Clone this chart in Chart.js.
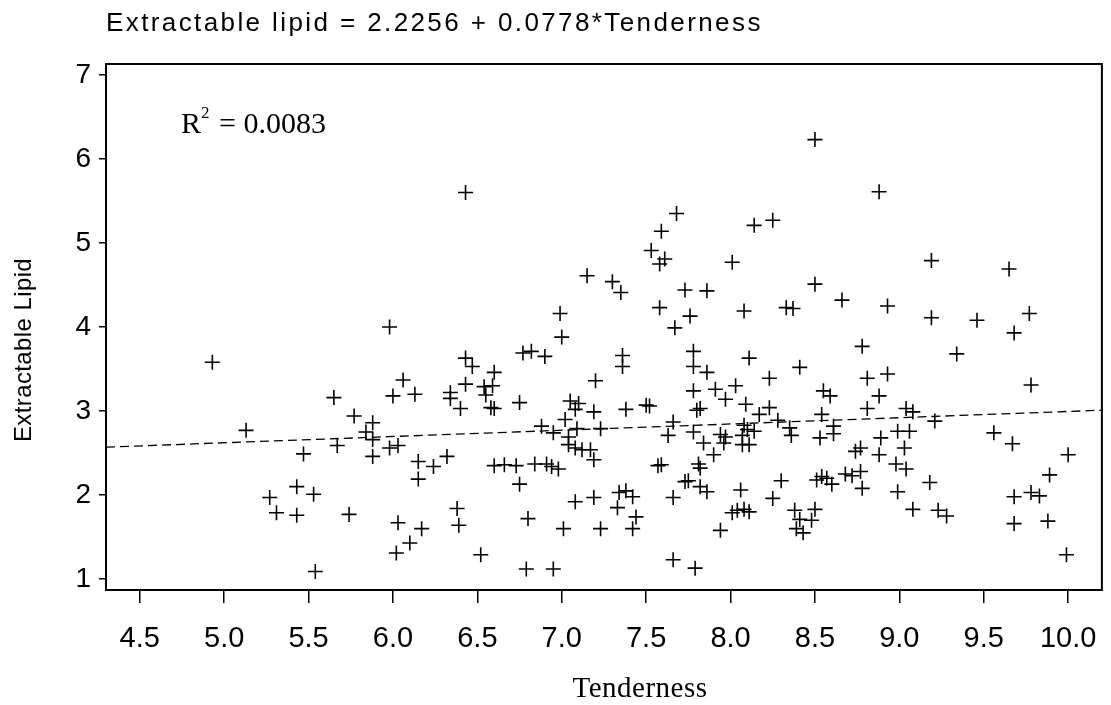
<!DOCTYPE html>
<html>
<head>
<meta charset="utf-8">
<title>Extractable lipid vs Tenderness</title>
<script src="https://cdn.jsdelivr.net/npm/chart.js@4.4.0/dist/chart.umd.min.js"></script>
<style>
  html, body { margin: 0; padding: 0; background: #fff; }
  #wrap { width: 1111px; height: 705px; }
</style>
</head>
<body>
<div id="wrap"><canvas id="chart" width="1111" height="705"></canvas></div>
<script>
const tenderness = [
    5.98, 4.93, 5.13, 5.65, 5.77, 5.88, 5.84, 5.88, 5.88, 5.67,
    5.47, 5.98, 6.03, 6.06, 6.00, 6.13, 6.15, 6.24, 6.15, 5.27,
    5.43, 5.53, 5.31, 5.43, 5.74, 6.03, 6.17, 6.10, 6.02, 5.54,
    6.43, 7.68, 7.59, 7.53, 7.61, 7.58, 8.14, 8.25, 8.01, 7.15,
    7.30, 7.35, 7.73, 7.86, 6.99, 7.58, 7.76, 8.08,
    7.67, 7.00, 6.43, 6.47, 6.77, 6.82, 6.90, 7.36, 7.36, 7.78,
    7.78, 7.86, 8.11, 8.23, 6.60, 6.43, 6.34, 6.34, 6.54, 6.59,
    6.55, 6.40, 6.58, 6.60, 6.75, 7.20, 7.05, 7.10, 7.08, 7.19,
    7.02, 7.38, 7.50, 7.52, 6.88, 6.95, 7.09, 7.23, 7.04, 7.04,
    7.08, 7.12, 7.17, 7.19, 7.66, 7.63, 7.78, 7.80, 7.82, 7.78,
    7.91, 8.03, 7.97, 8.09, 8.23, 8.17, 7.94, 7.97, 7.96, 8.08,
    8.10, 8.14, 8.07, 8.07, 8.11, 7.84, 7.90, 6.32, 6.60, 6.66,
    6.73, 6.84, 6.91, 6.94, 6.98, 6.75, 7.57, 7.59, 7.81, 7.82,
    7.73, 7.75, 7.82, 7.86, 7.66, 8.06, 8.25, 8.04, 8.08, 8.11,
    8.01, 7.94, 7.66, 7.79, 7.34, 7.38, 7.42, 7.33, 7.44, 7.42,
    7.23, 7.01, 7.19, 7.08, 6.80, 6.38, 6.39, 6.52, 6.79, 6.95,
    8.50, 8.88, 9.19, 9.65, 8.50, 8.66, 8.33, 8.37, 8.93, 9.19,
    9.46, 9.77,
    9.68, 8.78, 9.34, 8.41, 8.81, 8.93, 9.78, 8.55, 8.59, 8.88,
    8.54, 8.81, 9.04, 9.08, 8.28, 8.35, 8.36, 8.61, 8.61, 8.53,
    9.21, 8.99, 9.06, 8.89, 9.03, 8.88, 8.74, 8.77, 8.98, 9.04,
    9.56, 9.67, 10.00, 9.89, 9.78, 9.83, 9.68, 9.68, 9.88, 9.99,
    9.18, 8.99, 9.08, 9.23, 9.28, 8.30, 8.51, 8.54, 8.57, 8.60,
    8.68, 8.72, 8.77, 8.78, 8.38, 8.41, 8.39, 8.43, 8.48, 8.50
];
const lipid = [
    4.00, 3.58, 2.77, 3.16, 2.94, 2.86, 2.75, 2.66, 2.46, 2.59,
    2.49, 2.56, 2.59, 3.37, 3.18, 3.20, 2.40, 2.34, 2.19, 1.97,
    2.10, 2.01, 1.79, 1.76, 1.77, 1.67, 1.60, 1.43, 1.31, 1.09,
    5.60, 5.35, 5.14, 4.91, 4.81, 4.75, 5.21, 5.27, 4.77, 4.61,
    4.54, 4.41, 4.44, 4.43, 4.16, 4.23, 4.13, 4.19,
    3.99, 3.88, 3.63, 3.53, 3.69, 3.71, 3.65, 3.66, 3.53, 3.71,
    3.53, 3.46, 3.63, 3.39, 3.46, 3.32, 3.22, 3.15, 3.29, 3.30,
    3.19, 3.03, 3.04, 3.03, 3.10, 3.36, 3.12, 3.09, 3.02, 2.99,
    2.90, 3.02, 3.07, 3.06, 2.82, 2.74, 2.79, 2.79, 2.69, 2.60,
    2.56, 2.54, 2.54, 2.42, 2.87, 2.71, 2.75, 3.01, 3.03, 3.24,
    3.26, 3.30, 3.14, 3.08, 3.04, 2.96, 2.72, 2.69, 2.62, 2.83,
    2.78, 2.76, 2.71, 2.60, 2.60, 2.62, 2.48, 2.46, 2.35, 2.36,
    2.35, 2.37, 2.37, 2.34, 2.31, 2.13, 2.35, 2.36, 2.37, 2.32,
    2.16, 2.17, 2.10, 2.04, 1.97, 2.06, 1.96, 1.82, 1.83, 1.80,
    1.79, 1.58, 1.23, 1.13, 2.03, 2.05, 1.98, 1.85, 1.74, 1.60,
    1.60, 1.60, 1.97, 1.92, 1.72, 1.84, 1.64, 1.29, 1.12, 1.12,
    6.23, 5.61, 4.79, 4.69, 4.51, 4.32, 4.23, 4.22, 4.25, 4.11,
    4.08, 4.16,
    3.93, 3.77, 3.68, 3.52, 3.39, 3.44, 3.31, 3.24, 3.18, 3.18,
    2.96, 3.03, 3.03, 2.99, 2.89, 2.80, 2.71, 2.82, 2.73, 2.68,
    2.88, 2.76, 2.76, 2.68, 2.56, 2.48, 2.52, 2.56, 2.37, 2.31,
    2.74, 2.61, 2.48, 2.24, 2.03, 1.99, 1.98, 1.66, 1.69, 1.29,
    2.15, 2.04, 1.83, 1.82, 1.75, 2.17, 2.18, 2.22, 2.20, 2.13,
    2.25, 2.23, 2.28, 2.08, 1.82, 1.71, 1.60, 1.55, 1.70, 1.83
];

// Fitted line end points, as drawn across the plot
const fitX = [4.3, 10.2];
const fitY = [2.57, 3.01];

// Axis ticks
const xTicks = [4.5, 5.0, 5.5, 6.0, 6.5, 7.0, 7.5, 8.0, 8.5, 9.0, 9.5, 10.0];
const yTicks = [1, 2, 3, 4, 5, 6, 7];

const titleText = 'Extractable lipid = 2.2256 + 0.0778*Tenderness';
const xTitle = 'Tenderness';
const yTitle = 'Extractable Lipid';
const rSquared = '0.0083';

const SANS = '"Liberation Sans", Arial, sans-serif';
const SERIF = '"Liberation Serif", "Times New Roman", serif';

const points = tenderness.map((t, i) => ({ x: t, y: lipid[i] }));
const fitLine = fitX.map((x, i) => ({ x: x, y: fitY[i] }));

// Frame, titles and the R-squared note
const decorations = {
    id: 'decorations',
    afterDraw(chart) {
        const ctx = chart.ctx;
        const area = chart.chartArea;
        ctx.save();
        ctx.strokeStyle = '#000';
        ctx.lineWidth = 2;
        ctx.strokeRect(area.left, area.top, area.right - area.left, area.bottom - area.top);

        ctx.fillStyle = '#000';
        ctx.textBaseline = 'alphabetic';

        // main title
        ctx.letterSpacing = '2.4px';
        ctx.font = '26px ' + SANS;
        ctx.textAlign = 'left';
        ctx.fillText(titleText, 106, 31);

        // y axis title
        ctx.save();
        ctx.translate(24, 350);
        ctx.rotate(-Math.PI / 2);
        ctx.textAlign = 'center';
        ctx.textBaseline = 'middle';
        ctx.letterSpacing = '0.4px';
        ctx.font = '24px ' + SANS;
        ctx.fillText(yTitle, 0, 0);
        ctx.restore();

        // x axis title
        ctx.letterSpacing = '0.5px';
        ctx.textAlign = 'center';
        ctx.textBaseline = 'alphabetic';
        ctx.font = '29px ' + SERIF;
        ctx.fillText(xTitle, 640, 697);

        // R^2 note
        ctx.letterSpacing = '0px';
        ctx.textAlign = 'left';
        ctx.font = '30px ' + SERIF;
        ctx.fillText('R', 181, 133);
        ctx.font = '17px ' + SERIF;
        ctx.fillText('2', 201, 118);
        ctx.font = '30px ' + SERIF;
        ctx.fillText('= ' + rSquared, 219, 133);
        ctx.restore();
    }
};

new Chart(document.getElementById('chart'), {
    type: 'scatter',
    data: {
        datasets: [
            {
                label: 'Observed',
                data: points,
                pointStyle: 'cross',
                pointRadius: 7.5,
                pointHoverRadius: 7.5,
                borderColor: '#000',
                backgroundColor: '#000',
                borderWidth: 1.6
            },
            {
                type: 'line',
                label: 'Fit',
                data: fitLine,
                borderColor: '#000',
                borderWidth: 1.3,
                borderDash: [9, 5],
                pointRadius: 0,
                fill: false,
                tension: 0
            }
        ]
    },
    options: {
        responsive: false,
        animation: false,
        events: [],
        layout: { padding: { top: 64, right: 3, bottom: 0, left: 0 } },
        plugins: {
            legend: { display: false },
            title: { display: false },
            tooltip: { enabled: false }
        },
        scales: {
            x: {
                type: 'linear',
                min: 4.3,
                max: 10.2,
                afterFit: s => {
                    s.height = 115;
                    s.paddingLeft = 0;
                    s.paddingRight = 0;
                },
                afterBuildTicks: s => { s.ticks = xTicks.map(v => ({ value: v })); },
                grid: { drawOnChartArea: false, color: '#000', lineWidth: 1.5, tickLength: 13 },
                border: { display: true, color: '#000', width: 2 },
                ticks: {
                    color: '#000',
                    padding: 19,
                    maxRotation: 0,
                    autoSkip: false,
                    font: { family: SANS, size: 29 },
                    callback: v => Number(v).toFixed(1)
                }
            },
            y: {
                type: 'linear',
                min: 0.87,
                max: 7.13,
                afterFit: s => {
                    s.width = 106;
                    s.paddingTop = 0;
                    s.paddingBottom = 0;
                },
                afterBuildTicks: s => { s.ticks = yTicks.map(v => ({ value: v })); },
                grid: { drawOnChartArea: false, color: '#000', lineWidth: 1.5, tickLength: 7 },
                border: { display: true, color: '#000', width: 2 },
                ticks: {
                    color: '#000',
                    padding: 8,
                    autoSkip: false,
                    font: { family: SANS, size: 28 },
                    callback: v => String(v)
                }
            }
        }
    },
    plugins: [decorations]
});
</script>
</body>
</html>
